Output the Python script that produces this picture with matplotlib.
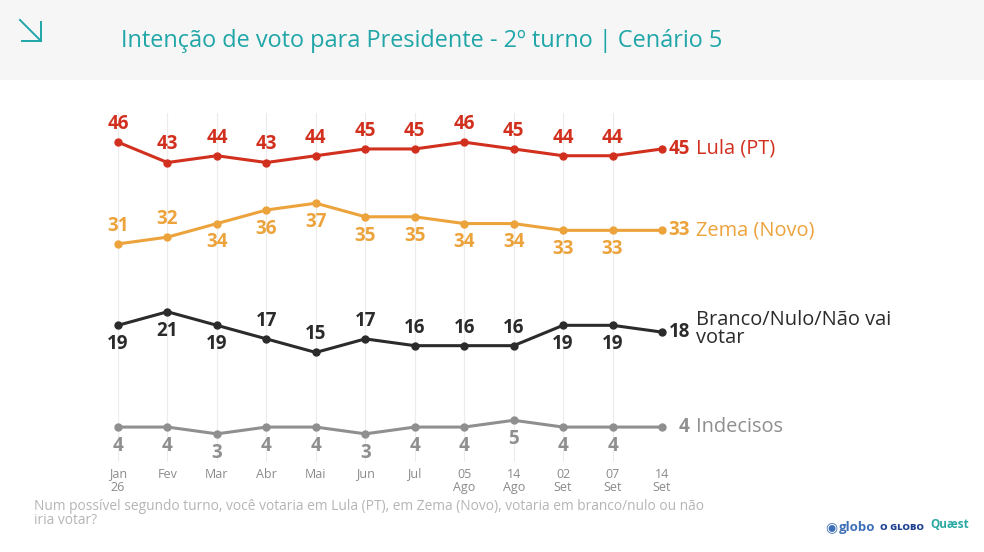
import matplotlib
matplotlib.use("Agg")
from matplotlib import pyplot as plt
from matplotlib.patches import Rectangle

plt.rcParams['font.family'] = ['Open Sans', 'DejaVu Sans']

# data
periods = ["Jan\n26", "Fev", "Mar", "Abr", "Mai", "Jun", "Jul",
           "05\nAgo", "14\nAgo", "02\nSet", "07\nSet", "14\nSet"]
lula = [46, 43, 44, 43, 44, 45, 45, 46, 45, 44, 44, 45]
zema = [31, 32, 34, 36, 37, 35, 35, 34, 34, 33, 33, 33]
branco = [19, 21, 19, 17, 15, 17, 16, 16, 16, 19, 19, 18]
indecisos = [4, 4, 3, 4, 4, 3, 4, 4, 5, 4, 4, 4]

names = ["Lula (PT)", "Zema (Novo)", "Branco/Nulo/Não vai\nvotar", "Indecisos"]
colors = ["#d2301f", "#eca33b", "#2b2b2b", "#8f8f8f"]
# 1 = label above the point, -1 = below
lula_pos = [1] * 11
zema_pos = [1, 1, -1, -1, -1, -1, -1, -1, -1, -1, -1]
branco_pos = [-1, -1, -1, 1, 1, 1, 1, 1, 1, -1, -1]
indec_pos = [-1] * 11

W, H = 984, 552
fig = plt.figure(figsize=(W / 100, H / 100), dpi=100)
fig.patch.set_facecolor("white")

# header band
fig.add_artist(Rectangle((0, 1 - 80 / H), 1, 80 / H, transform=fig.transFigure,
                         facecolor="#f6f6f6", edgecolor="none", zorder=0))
teal = "#20a6a8"
fig.text(121 / W, 1 - 41 / H, "Intenção de voto para Presidente - 2º turno | Cenário 5",
         color=teal, fontsize=16.9, va="center", ha="left")
# arrow icon
fig.add_artist(plt.Line2D([20 / W, 41 / W], [1 - 20 / H, 1 - 41 / H], color=teal, lw=1.4))
fig.add_artist(plt.Line2D([22 / W, 41 / W, 41 / W], [1 - 41 / H, 1 - 41 / H, 1 - 22 / H],
                          color=teal, lw=1.4))

ax = fig.add_axes([118 / W, 1 - 462 / H, 544 / W, (462 - 113) / H])
ax.set_xlim(0, 11)
ax.set_ylim(-1.15, 50.3)
x = list(range(len(periods)))

series = [lula, zema, branco, indecisos]
positions = [lula_pos, zema_pos, branco_pos, indec_pos]
for vals, pos, name, c in zip(series, positions, names, colors):
    ax.plot(x, vals, color=c, lw=2.2, marker="o", markersize=5, clip_on=False, zorder=3)
    for i in range(len(vals) - 1):
        off = 13 if pos[i] > 0 else -13.5
        ax.annotate(str(vals[i]), (x[i], vals[i]), xytext=(0, off), textcoords="offset points",
                    ha="center", va="center", fontsize=13.5, fontweight="bold", color=c)
    ax.annotate(str(vals[-1]), (x[-1], vals[-1]), xytext=(20, 0), textcoords="offset points",
                ha="right", va="center", fontsize=13.5, fontweight="bold", color=c)
    ax.annotate(name, (x[-1], vals[-1]), xytext=(24.5, 2 if "\n" in name else 0),
                textcoords="offset points", ha="left", va="center", fontsize=14.4,
                color=c, linespacing=0.85)

ax.set_xticks(x)
ax.set_xticklabels(periods, fontsize=9, color="#8a8a8a", linespacing=1.0)
ax.tick_params(axis="x", length=0, pad=4)
ax.set_yticks([])
ax.grid(axis="x", color="#ececec", lw=0.8)
for s in ax.spines.values():
    s.set_visible(False)
ax.set_facecolor("none")

fig.text(34 / W, 1 - 507 / H,
         "Num possível segundo turno, você votaria em Lula (PT), em Zema (Novo), votaria em branco/nulo ou não",
         color="#b5b5b5", fontsize=9.95, va="center", ha="left")
fig.text(34 / W, 1 - 521 / H, "iria votar?", color="#b5b5b5", fontsize=9.95, va="center", ha="left")

# logos as text
fig.text(825 / W, 1 - 527 / H, "◉", color="#3d6fb6", fontsize=10,
         va="center", ha="left", family=["DejaVu Sans"])
fig.text(839 / W, 1 - 527 / H, "globo", color="#3d6fb6", fontsize=9.5, fontweight="bold",
         va="center", ha="left")
fig.text(880 / W, 1 - 527 / H, "O GLOBO", color="#1d3f8f", fontsize=6.8, fontweight="heavy",
         va="center", ha="left")
fig.text(930 / W, 1 - 525 / H, "Quæst", color="#2aa9a3", fontsize=8.5, fontweight="bold",
         va="center", ha="left")

fig.savefig("out.png", dpi=100)
